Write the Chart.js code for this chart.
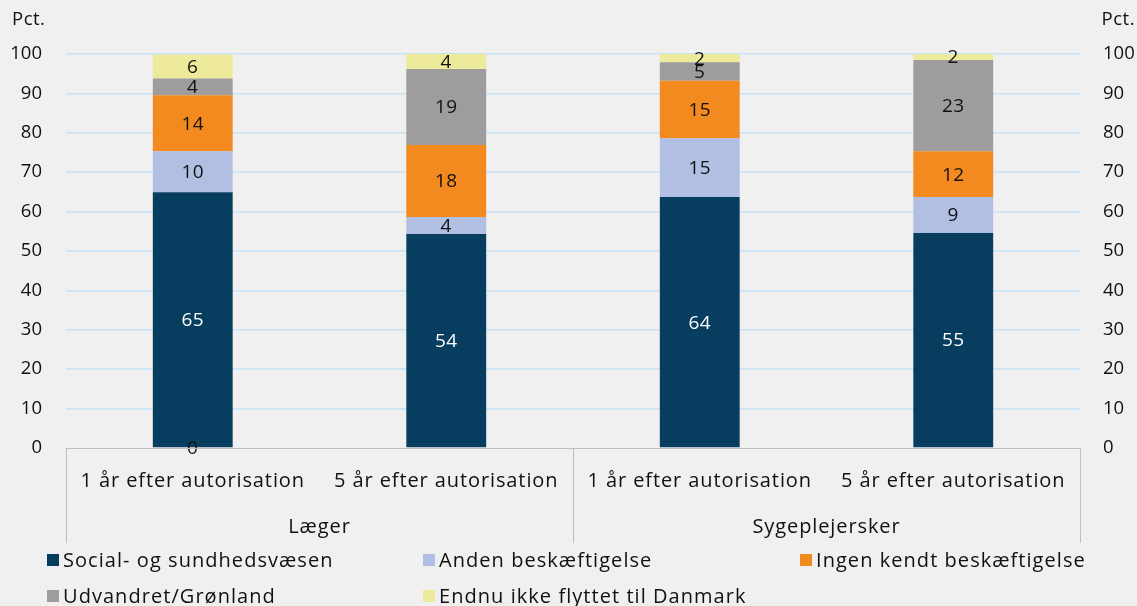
<!DOCTYPE html>
<html><head><meta charset="utf-8">
<script src="https://cdn.jsdelivr.net/npm/chart.js@4/dist/chart.umd.min.js"></script>
<style>html,body{margin:0;padding:0;background:#f0f0f0;}#wrap{width:1137px;height:606px;position:relative;}</style>
</head><body><div id="wrap"><canvas id="c"></canvas></div>
<script>
const categories = ['1 år efter autorisation','5 år efter autorisation','1 år efter autorisation','5 år efter autorisation'];
const groups = ['Læger','Sygeplejersker'];
const socialSundhed = [64.9, 54.3, 63.7, 54.6];
const andenBeskaeft = [10.4, 4.3, 14.9, 9.1];
const ingenKendt = [14.2, 18.3, 14.6, 11.6];
const udvandret = [4.3, 19.3, 4.7, 23.2];
const ikkeFlyttet = [6.1, 3.8, 2.1, 1.5];
const zeroSeries = [0, null, null, null];
const yTicks = [0,10,20,30,40,50,60,70,80,90,100];
const seriesNames = ['Social- og sundhedsvæsen','Anden beskæftigelse','Ingen kendt beskæftigelse','Udvandret/Grønland','Endnu ikke flyttet til Danmark'];
const colors = ['#073e5f','#b1bfe2','#f28a1f','#9e9c9c','#eeea9c'];
const labelColors = ['#ffffff','#111','#111','#111','#111'];
const FONT = "'Open Sans', sans-serif";

const overlay = {
  id:'overlay',
  afterDatasetsDraw(chart){
    const ctx = chart.ctx;
    ctx.save();
    ctx.font = '19px '+FONT; ctx.textAlign='center'; ctx.textBaseline='middle';
    ctx.letterSpacing='0.5px';
    chart.data.datasets.forEach((ds,di)=>{
      const meta = chart.getDatasetMeta(di);
      meta.data.forEach((el,i)=>{
        const v = ds.data[i];
        if(v===null||v===undefined) return;
        ctx.fillStyle = ds.labelColor;
        ctx.fillText(String(Math.round(v)), el.x, (el.y+el.base)/2+1);
      });
    });
    ctx.restore();
  },
  afterDraw(chart){
    const ctx = chart.ctx, x = chart.scales.x, a = chart.chartArea;
    ctx.save();
    const step = x.getPixelForValue(1)-x.getPixelForValue(0);
    const edges = [x.getPixelForValue(0)-step/2, x.getPixelForValue(1)+step/2, x.getPixelForValue(3)+step/2];
    ctx.strokeStyle='#bfbfbf'; ctx.lineWidth=1;
    edges.forEach(e=>{ctx.beginPath();ctx.moveTo(Math.round(e)+0.5,a.bottom);ctx.lineTo(Math.round(e)+0.5,543);ctx.stroke();});
    ctx.beginPath();ctx.moveTo(edges[0],a.bottom+0.5);ctx.lineTo(edges[2],a.bottom+0.5);ctx.stroke();
    ctx.fillStyle='#111'; ctx.textAlign='center'; ctx.textBaseline='middle';
    ctx.font='20px '+FONT; ctx.letterSpacing='0.9px';
    categories.forEach((c,i)=>ctx.fillText(c, x.getPixelForValue(i), 481));
    groups.forEach((g,gi)=>ctx.fillText(g, (edges[gi]+edges[gi+1])/2, 527));
    ctx.font='18.5px '+FONT; ctx.letterSpacing='0.5px';
    ctx.textAlign='left'; ctx.fillText('Pct.', 12, 20);
    ctx.textAlign='right'; ctx.fillText('Pct.', 1135, 20);
    const pos = [[47,560],[423,560],[800,560],[47,596],[423,596]];
    ctx.font='20px '+FONT; ctx.letterSpacing='1.05px'; ctx.textAlign='left';
    seriesNames.forEach((n,i)=>{
      const [lx,ly]=pos[i];
      ctx.fillStyle=colors[i]; ctx.fillRect(lx,ly-6,12,12);
      ctx.fillStyle='#111'; ctx.fillText(n, lx+16, ly+1);
    });
    ctx.restore();
  }
};

const seriesData = [socialSundhed, andenBeskaeft, ingenKendt, udvandret, ikkeFlyttet];
const datasets = [{label:'', data:zeroSeries, backgroundColor:'rgba(0,0,0,0)', labelColor:'#111', stack:'s', barPercentage:0.315, categoryPercentage:1}]
  .concat(seriesData.map((d,i)=>({label:seriesNames[i], data:d, backgroundColor:colors[i], labelColor:labelColors[i], stack:'s', barPercentage:0.315, categoryPercentage:1, borderWidth:0})));

new Chart(document.getElementById('c'), {
  type:'bar',
  data:{labels:categories, datasets},
  plugins:[overlay],
  options:{
    responsive:true, maintainAspectRatio:false, animation:false,
    layout:{padding:{top:54,left:0,right:0,bottom:0}},
    plugins:{legend:{display:false}, tooltip:{enabled:false}},
    scales:{
      x:{stacked:true, grid:{display:false}, border:{display:false}, ticks:{display:false},
         afterFit(s){s.height=158;}},
      y:{stacked:true, min:0, max:100, position:'left',
         afterBuildTicks(s){s.ticks=yTicks.map(v=>({value:v}));},
         afterFit(s){s.width=66;},
         grid:{color:(c)=>c.tick.value===0?'rgba(0,0,0,0)':'#c8e2f6', lineWidth:1.5, drawTicks:false},
         border:{display:false},
         ticks:{padding:24, color:'#111', font:{family:FONT,size:18.5}}},
      y2:{min:0, max:100, position:'right',
         afterBuildTicks(s){s.ticks=yTicks.map(v=>({value:v}));},
         afterFit(s){s.width=57;},
         grid:{display:false, drawTicks:false}, border:{display:false},
         ticks:{padding:23, color:'#111', font:{family:FONT,size:18.5}}}
    }
  }
});
</script></body></html>
